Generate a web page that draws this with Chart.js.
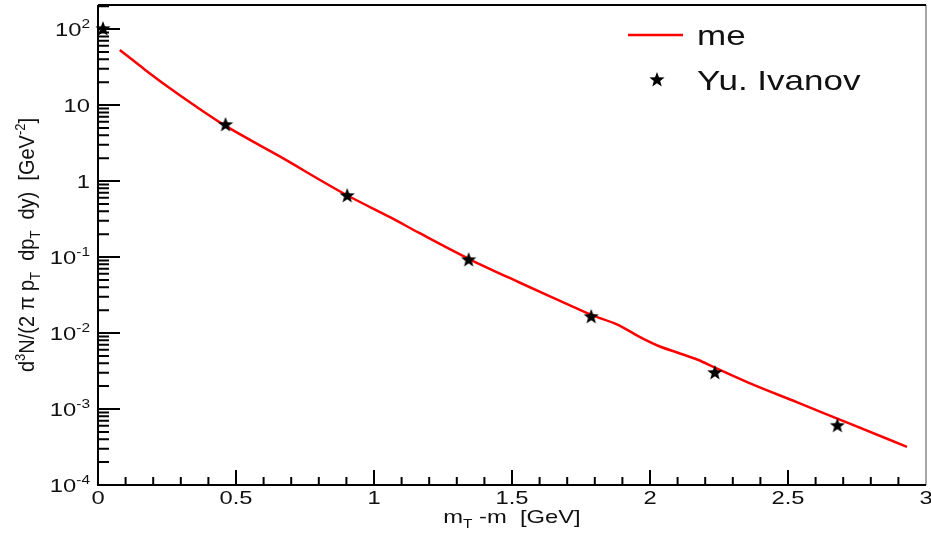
<!DOCTYPE html>
<html>
<head>
<meta charset="utf-8">
<script src="https://cdn.jsdelivr.net/npm/chart.js@4"></script>
<style>
  html, body { margin: 0; padding: 0; background: #fff; }
  #wrap { width: 931px; height: 534px; }
</style>
</head>
<body>
<div id="wrap"><canvas id="spectrumChart" width="931" height="534"></canvas></div>
<script>
// model curve ("me")
const lineX = [0.079, 0.17, 0.253, 0.35, 0.458, 0.657, 0.899, 1.065, 1.162, 1.343, 1.523, 1.704, 1.787, 1.884, 1.957, 2.029, 2.101, 2.173, 2.235, 2.354, 2.534, 2.715, 2.931];
const lineY = [52.9, 29.2, 17.4, 9.86, 5.43, 2.12, 0.659, 0.324, 0.209, 0.0948, 0.0469, 0.0237, 0.0173, 0.0128, 0.0091, 0.0068, 0.0055, 0.00445, 0.0035, 0.00224, 0.00122, 0.00066, 0.000318];

// Yu. Ivanov points
const starX = [0.018, 0.462, 0.903, 1.343, 1.787, 2.235, 2.679];
const starY = [100, 5.46, 0.635, 0.091, 0.0163, 0.00298, 0.0006];

// axis ticks
const xMajor = [0, 0.5, 1, 1.5, 2, 2.5, 3];
const xLabels = ['0', '0.5', '1', '1.5', '2', '2.5', '3'];
const yExp = [-4, -3, -2, -1, 0, 1, 2];

const seriesNames = ['me', 'Yu. Ivanov'];

document.addEventListener('DOMContentLoaded', (event) => {
    const ctx = document.getElementById('spectrumChart').getContext('2d');
    const FONT = '"Liberation Sans", Arial, sans-serif';
    const STRETCH = 1.25;
    const INK = '#111';

    // filled five point star used as marker
    function makeStar(r) {
        const c = document.createElement('canvas');
        const s = Math.ceil(r * 2 + 2);
        c.width = s; c.height = s;
        const g = c.getContext('2d');
        g.translate(s / 2, s / 2);
        g.beginPath();
        for (let i = 0; i < 10; i++) {
            const rad = i % 2 === 0 ? r : r * 0.42;
            const a = -Math.PI / 2 + i * Math.PI / 5;
            g.lineTo(rad * Math.cos(a), rad * Math.sin(a));
        }
        g.closePath();
        g.fillStyle = '#000';
        g.fill();
        return c;
    }
    const star = makeStar(8);

    // text with sub/superscripts, parts = [{t, sup, sub}]
    function richWidth(g, parts, size) {
        let w = 0;
        parts.forEach(p => {
            g.font = ((p.sup || p.sub) ? size * 0.65 : size) + 'px ' + FONT;
            w += g.measureText(p.t).width;
        });
        return w;
    }
    function drawRich(g, parts, x, y, size, align, stretch) {
        const w = richWidth(g, parts, size);
        g.save();
        g.translate(x, y);
        g.scale(stretch, 1);
        let cx = align === 'right' ? -w : align === 'center' ? -w / 2 : 0;
        g.fillStyle = INK;
        g.textBaseline = 'alphabetic';
        g.textAlign = 'left';
        parts.forEach(p => {
            const small = p.sup || p.sub;
            g.font = (small ? size * 0.65 : size) + 'px ' + FONT;
            const dy = p.sup ? -size * 0.42 : p.sub ? size * 0.28 : 0;
            g.fillText(p.t, cx, dy);
            cx += g.measureText(p.t).width;
        });
        g.restore();
    }

    const framePlugin = {
        id: 'rootFrame',
        afterDatasetsDraw(chart) {
            const g = chart.ctx;
            const a = chart.chartArea;
            const xs = chart.scales.x;
            const ys = chart.scales.y;
            g.save();

            // frame
            g.strokeStyle = '#888';
            g.lineWidth = 1.5;
            g.beginPath();
            g.moveTo(a.right, a.top);
            g.lineTo(a.right, a.bottom);
            g.stroke();
            g.strokeStyle = '#000';
            g.lineWidth = 2;
            g.beginPath();
            g.moveTo(a.left, a.top);
            g.lineTo(a.right, a.top);
            g.moveTo(a.left, a.top);
            g.lineTo(a.left, a.bottom);
            g.lineTo(a.right, a.bottom);
            g.stroke();

            // x ticks, pointing inwards
            g.lineWidth = 2;
            g.beginPath();
            for (let i = 1; i < 30; i++) {
                const px = xs.getPixelForValue(i / 10);
                const len = i % 5 === 0 ? 15 : 8;
                g.moveTo(px, a.bottom);
                g.lineTo(px, a.bottom - len);
            }
            // y ticks on the log axis
            yExp.forEach(e => {
                for (let m = 1; m <= 9; m++) {
                    const v = m * Math.pow(10, e);
                    if (v > ys.max) break;
                    const py = ys.getPixelForValue(v);
                    const len = m === 1 ? 22 : 11;
                    g.moveTo(a.left, py);
                    g.lineTo(a.left + len, py);
                }
            });
            g.stroke();

            // tick labels
            xMajor.forEach((v, i) => {
                drawRich(g, [{ t: xLabels[i] }], xs.getPixelForValue(v), a.bottom + 19, 19, 'center', STRETCH);
            });
            yExp.forEach(e => {
                const py = ys.getPixelForValue(Math.pow(10, e)) + 7;
                let parts;
                if (e === 0) parts = [{ t: '1' }];
                else if (e === 1) parts = [{ t: '10' }];
                else parts = [{ t: '10' }, { t: String(e), sup: true }];
                drawRich(g, parts, a.left - 8, py, 19, 'right', STRETCH);
            });

            // axis titles
            drawRich(g, [{ t: 'm' }, { t: 'T', sub: true }, { t: ' -m  [GeV]' }],
                (a.left + a.right) / 2, 523, 19, 'center', STRETCH);

            g.save();
            g.translate(34, (a.top + a.bottom) / 2);
            g.scale(1.1, 1);
            g.rotate(-Math.PI / 2);
            drawRich(g, [
                { t: 'd' }, { t: '3', sup: true }, { t: 'N/(2 \u03c0 p' }, { t: 'T', sub: true },
                { t: '  dp' }, { t: 'T', sub: true }, { t: '  dy)  [GeV' }, { t: '-2', sup: true }, { t: ']' }
            ], 0, 0, 20, 'center', 1);
            g.restore();

            // legend
            g.strokeStyle = 'rgb(255,0,0)';
            g.lineWidth = 2.5;
            g.beginPath();
            g.moveTo(628, 35);
            g.lineTo(683, 35);
            g.stroke();
            g.drawImage(star, 657 - star.width / 2, 80 - star.height / 2);
            drawRich(g, [{ t: seriesNames[0] }], 697, 45, 28, 'left', STRETCH);
            drawRich(g, [{ t: seriesNames[1] }], 697, 90, 28, 'left', STRETCH);

            g.restore();
        }
    };

    const data = {
        datasets: [{
            type: 'line',
            label: seriesNames[0],
            data: lineX.map((x, i) => ({ x: x, y: lineY[i] })),
            borderColor: 'rgb(255,0,0)',
            borderWidth: 2.5,
            pointRadius: 0,
            fill: false,
            cubicInterpolationMode: 'monotone',
            order: 2
        }, {
            type: 'scatter',
            label: seriesNames[1],
            data: starX.map((x, i) => ({ x: x, y: starY[i] })),
            pointStyle: star,
            clip: false,
            order: 1
        }]
    };

    const config = {
        type: 'scatter',
        data: data,
        options: {
            responsive: false,
            animation: false,
            layout: { padding: { top: 5, right: 2, left: 0, bottom: 0 } },
            scales: {
                x: {
                    type: 'linear',
                    min: 0,
                    max: 3,
                    grid: { display: false },
                    border: { display: false },
                    ticks: { display: false },
                    afterFit: (s) => { s.height = 49; }
                },
                y: {
                    type: 'logarithmic',
                    min: 1e-4,
                    max: 207,
                    grid: { display: false },
                    border: { display: false },
                    ticks: { display: false },
                    afterFit: (s) => { s.width = 98; }
                }
            },
            plugins: {
                legend: { display: false },
                tooltip: { enabled: false }
            }
        },
        plugins: [framePlugin]
    };

    new Chart(ctx, config);
});
</script>
</body>
</html>
